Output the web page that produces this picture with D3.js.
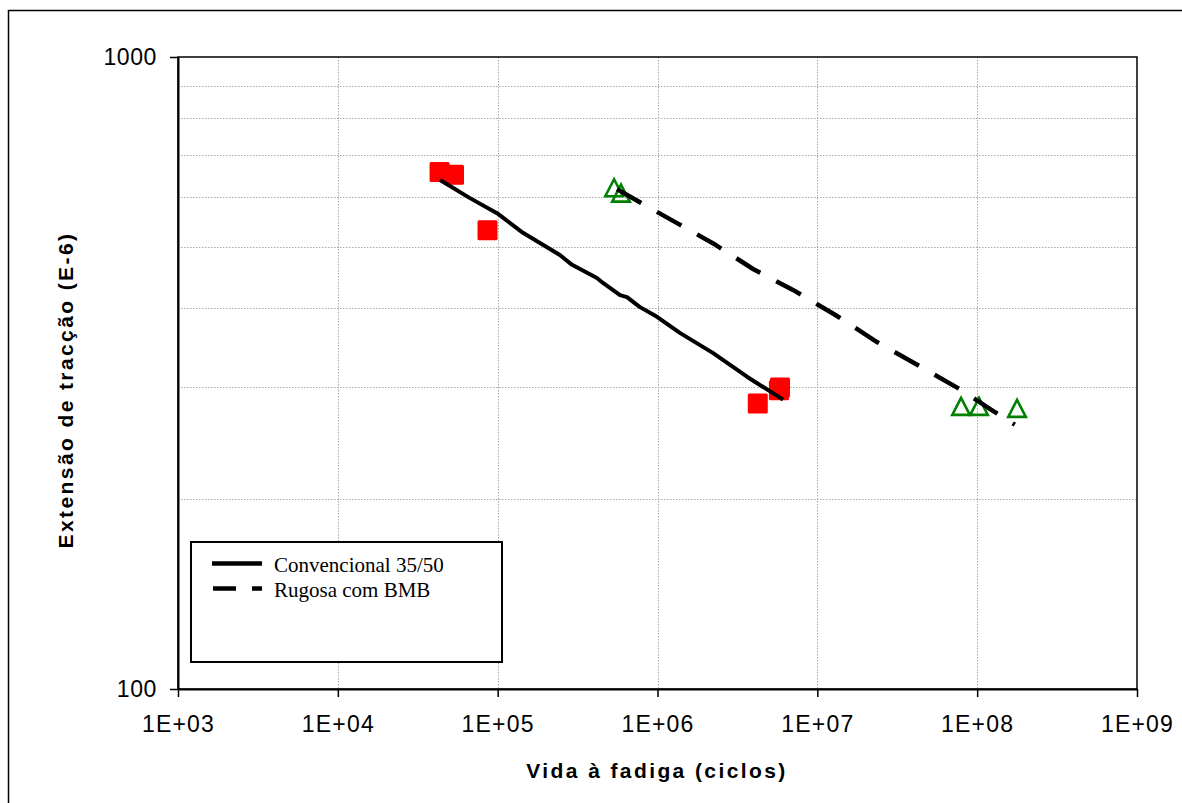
<!DOCTYPE html>
<html>
<head>
<meta charset="utf-8">
<script src="https://cdn.jsdelivr.net/npm/d3@7"></script>
<style>
  html, body { margin: 0; padding: 0; background: #fff; }
  svg { display: block; }
</style>
</head>
<body>
<svg id="chart" width="1182" height="803"></svg>
<script>
// ---------- data ----------
const xTickValues = [1e3, 1e4, 1e5, 1e6, 1e7, 1e8, 1e9];
const xTickLabels = ["1E+03", "1E+04", "1E+05", "1E+06", "1E+07", "1E+08", "1E+09"];
const yTickValues = [100, 1000];
const yTickLabels = ["100", "1000"];
const yMinorGrid = [200, 300, 400, 500, 600, 700, 800, 900];

// Convencional 35/50 (solid line)
const convN      = [4.36e4, 6.71e4, 9.91e4, 1.44e5, 2.45e5, 2.92e5, 4.18e5, 4.56e5, 5.83e5, 6.44e5, 7.77e5, 9.93e5, 1.38e6, 2.23e6, 3.63e6, 6.10e6];
const convStrain = [639, 598, 566, 527, 486, 469, 447, 439, 420, 417, 402, 388, 366, 340, 312, 287];

// Rugosa com BMB (dashed line)
const rugN       = [5.58e5, 7.66e5, 1.325e6, 2.26e6, 3.96e6, 7.04e6, 1.29e7, 2.36e7, 4.39e7, 7.81e7, 1.24e8, 1.72e8];
const rugStrain  = [618, 590, 546, 506, 462, 428, 391, 354, 324, 298, 276, 262];

// test results: Convencional (red squares)
const sqN        = [4.33e4, 5.33e4, 8.64e4, 4.24e6, 5.84e6, 5.75e6];
const sqStrain   = [658, 651, 532, 283, 300, 297];

// test results: Rugosa (green triangles)
const triN       = [5.35e5, 5.91e5, 7.93e7, 1.027e8, 1.776e8];
const triStrain  = [621, 609, 280, 280, 278];

const legendLabels = ["Convencional 35/50", "Rugosa com BMB"];
const xTitle = "Vida à fadiga (ciclos)";
const yTitle = "Extensão de tracção (E-6)";

// ---------- drawing ----------
const svg = d3.select("#chart");
svg.append("rect").attr("width", 1182).attr("height", 803).attr("fill", "#fff");

// outer chart frame
svg.append("rect").attr("x", 8.5).attr("y", 10.5).attr("width", 1200).attr("height", 820)
  .attr("fill", "none").attr("stroke", "#000").attr("stroke-width", 1.5);

const L = 178, R = 1137, T = 57, B = 689;
const x = d3.scaleLog().domain([1e3, 1e9]).range([L, R]);
const y = d3.scaleLog().domain([100, 1000]).range([B, T]);

// gridlines
const grid = svg.append("g").attr("stroke", "#a8a8a8").attr("stroke-width", 1).attr("stroke-dasharray", "1.5,1.5");
grid.selectAll("line.h").data(yMinorGrid).join("line")
  .attr("x1", L).attr("x2", R).attr("y1", d => Math.round(y(d)) + 0.5).attr("y2", d => Math.round(y(d)) + 0.5);
grid.selectAll("line.v").data(xTickValues.slice(1, -1)).join("line")
  .attr("y1", T).attr("y2", B).attr("x1", d => Math.round(x(d)) + 0.5).attr("x2", d => Math.round(x(d)) + 0.5);

// plot frame (top & right)
svg.append("rect").attr("x", L).attr("y", T).attr("width", R - L).attr("height", B - T)
  .attr("fill", "none").attr("stroke", "#000").attr("stroke-width", 1.5);

// axes
const xAxis = d3.axisBottom(x).tickValues(xTickValues)
  .tickFormat((d, i) => xTickLabels[i]).tickSizeInner(8).tickSizeOuter(0).tickPadding(19);
const gx = svg.append("g").attr("transform", `translate(0,${B})`).call(xAxis);
gx.select(".domain").attr("stroke-width", 2);
gx.selectAll(".tick line").attr("stroke-width", 1.5);
gx.selectAll("text").attr("font-family", "Liberation Sans, Arial, sans-serif")
  .attr("font-size", 23).attr("letter-spacing", 1.2).attr("fill", "#000");

const yAxis = d3.axisLeft(y).tickValues(yTickValues)
  .tickFormat((d, i) => yTickLabels[i]).tickSizeInner(8).tickSizeOuter(0).tickPadding(13);
const gy = svg.append("g").attr("transform", `translate(${L},0)`).call(yAxis);
gy.select(".domain").attr("stroke-width", 2);
gy.selectAll(".tick line").attr("stroke-width", 1.5);
gy.selectAll("text").attr("font-family", "Liberation Sans, Arial, sans-serif")
  .attr("font-size", 23).attr("letter-spacing", 0.6).attr("fill", "#000");

// markers
svg.append("g").selectAll("rect").data(sqN.map((n, i) => [n, sqStrain[i]])).join("rect")
  .attr("x", d => x(d[0]) - 10).attr("y", d => y(d[1]) - 10)
  .attr("width", 20).attr("height", 20).attr("rx", 1.5)
  .attr("fill", "#ff0000");

svg.append("g").selectAll("path").data(triN.map((n, i) => [n, triStrain[i]])).join("path")
  .attr("transform", d => `translate(${x(d[0])},${y(d[1])})`)
  .attr("d", "M0,-8.5 L8.8,8.5 L-8.8,8.5 Z")
  .attr("fill", "none").attr("stroke", "#008000").attr("stroke-width", 2.6).attr("stroke-linejoin", "miter");

// lines
const line = d3.line().x(d => x(d[0])).y(d => y(d[1]));
svg.append("path").datum(convN.map((n, i) => [n, convStrain[i]]))
  .attr("d", line).attr("fill", "none").attr("stroke", "#000").attr("stroke-width", 4)
  .attr("stroke-linejoin", "round");
svg.append("path").datum(rugN.map((n, i) => [n, rugStrain[i]]))
  .attr("d", line).attr("fill", "none").attr("stroke", "#000").attr("stroke-width", 4.5)
  .attr("stroke-dasharray", "28,18");

// legend
const lg = svg.append("g");
lg.append("rect").attr("x", 191).attr("y", 542).attr("width", 311).attr("height", 120)
  .attr("fill", "#fff").attr("stroke", "#000").attr("stroke-width", 2);
lg.append("line").attr("x1", 212).attr("x2", 262).attr("y1", 563.5).attr("y2", 563.5)
  .attr("stroke", "#000").attr("stroke-width", 4.5);
lg.append("line").attr("x1", 213).attr("x2", 262).attr("y1", 588.5).attr("y2", 588.5)
  .attr("stroke", "#000").attr("stroke-width", 4.5).attr("stroke-dasharray", "23,16");
lg.selectAll("text").data(legendLabels).join("text")
  .attr("x", 274).attr("y", (d, i) => 572 + i * 24.5)
  .attr("font-family", "Liberation Serif, Times New Roman, serif").attr("font-size", 21)
  .attr("fill", "#000").text(d => d);

// axis titles
svg.append("text").attr("x", 657).attr("y", 778).attr("text-anchor", "middle")
  .attr("font-family", "Liberation Sans, Arial, sans-serif").attr("font-weight", "bold")
  .attr("font-size", 21).attr("letter-spacing", 2.4).attr("fill", "#000").text(xTitle);
svg.append("text").attr("transform", "translate(73,390) rotate(-90)").attr("text-anchor", "middle")
  .attr("font-family", "Liberation Sans, Arial, sans-serif").attr("font-weight", "bold")
  .attr("font-size", 21).attr("letter-spacing", 2.4).attr("fill", "#000").text(yTitle);
</script>
</body>
</html>
